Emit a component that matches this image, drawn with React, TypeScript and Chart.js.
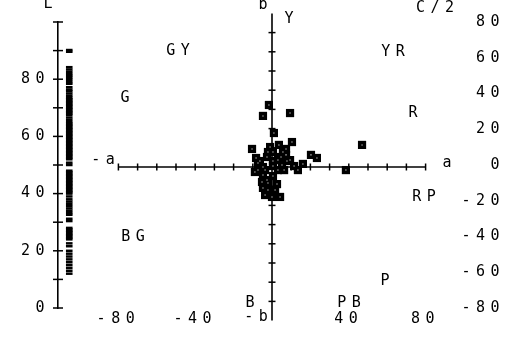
import React, { useEffect, useRef } from 'react';
import { Chart, registerables } from 'chart.js';

Chart.register(...registerables);

// ---- data: sample chromaticity (a, b) ----
const SAMPLE_A = [-1.6, -4.7, 9.4, 1.0, -10.4, 3.6, 7.3, 10.4, 0.5, 46.9, 20.3, 23.4, -6.3, -2.6, 4.7, 7.8, 0.5, -4.7, 0.5, 11.5, 16.1, 38.5, -4.7, 0.5, 2.6, 4.2, -4.7, -2.1, -8.3, 6.3, -2.6, -7.3, 7.3, -1.0,
  -7.3, -3.6, 3.1, 5.2, 9.4, -2.1, -5.2, 1.6, -3.6, 0.0, 3.1, -2.1, 5.7, 13.5, -8.9];
const SAMPLE_B = [32.3, 26.6, 28.1, 17.7, 9.4, 11.5, 9.4, 13.0, 7.8, 11.5, 6.3, 4.7, 3.1, 5.2, 5.2, 3.1, 3.1, 0.0, 0.5, 0.5, 1.6, -1.6, -4.2, -4.7, -8.9, -15.6, -10.9, -12.0, 4.7, -1.6, -6.8, -1.6, 6.3, 10.4,
  2.1, -1.6, -1.6, 1.0, 3.6, -8.3, -7.8, -12.0, -14.6, -15.6, 3.6, 7.8, 7.8, -1.6, -2.6];

// ---- data: lightness values (L) ----
const SAMPLE_L = [
  90.2, 89.6,
  84.2, 83.4, 82.6, 81.8, 81.2, 80.5, 79.8, 79.0, 78.4, 77.2, 76.4, 75.8, 75.0, 74.2,
  73.5, 73.0, 72.5, 72.0, 71.5, 71.0, 70.5, 70.0, 69.5, 69.0, 68.5, 68.0, 67.5,
  66.6, 65.8,
  65.0, 64.5, 64.0, 63.5, 63.0, 62.5, 62.0, 61.5, 61.0, 60.5, 60.0, 59.5, 59.0, 58.5,
  58.0, 57.5, 57.0, 56.5, 56.0, 55.5, 55.0, 54.5, 54.0, 53.5, 53.0, 52.5, 52.0,
  50.8, 50.0,
  48.0, 47.5, 47.0, 46.5, 46.0, 45.5, 45.0, 44.5, 44.0, 43.5, 43.0, 42.5, 42.0, 41.5, 41.0, 40.5, 40.0,
  39.0, 38.0, 37.2, 36.4, 35.6, 34.8, 34.0,
  33.2, 32.6, 31.2, 30.4,
  28.0, 27.5, 27.0, 26.5, 26.0, 25.5, 25.0, 24.5, 24.0,
  22.6, 21.6, 20.0, 19.0, 18.0, 17.0, 16.0, 15.0, 14.0, 13.0, 12.0,
];

// ---- axes / ticks ----
const AB_TICKS = [-80, -70, -60, -50, -40, -30, -20, -10, 10, 20, 30, 40, 50, 60, 70, 80];
const AB_ENDS = [-80, 80];
const L_TICKS = [0, 10, 20, 30, 40, 50, 60, 70, 80, 90, 100];
const L_LABELS = [0, 20, 40, 60, 80];
const BOTTOM_LABELS = [-80, -40, 40, 80];
const RIGHT_LABELS = [80, 60, 40, 20, 0, -20, -40, -60, -80];

// ---- text annotations, placed in (a, b) units ----
const HUE_TEXT = ['Y', 'YR', 'R', 'RP', 'P', 'PB', 'B', 'BG', 'G', 'GY'];
const HUE_A = [8.9, 63.0, 73.4, 79.2, 58.9, 40.1, -11.5, -72.4, -76.6, -49.0];
const HUE_B = [77.1, 59.9, 28.1, -15.6, -59.4, -70.8, -70.8, -36.5, 35.9, 60.4];
const AXIS_TEXT = ['b', '-b', 'a', '-a', 'L', 'C/2'];
const AXIS_TEXT_A = [-4.7, -8.3, 91.1, -88.0, -116.7, 84.9];
const AXIS_TEXT_B = [84.4, -78.1, 2.1, 3.6, 84.9, 82.8];

// plot window in data units
const A_MIN = -111.46;
const A_MAX = 97.92;
const B_MIN = -73.44;
const B_MAX = 75.52;
const L_AXIS_A = A_MIN;
const L_MARK_A = -105.6;

const FONT_FAMILY = "'DejaVu Sans Mono', monospace";
const FONT_SIZE = 15;
const SPACING_PX = 5.5;
const SPACING = `${SPACING_PX}px`;

const textPlugin = {
  id: 'plotText',
  beforeUpdate(chart: any) {
    chart.ctx.letterSpacing = SPACING;
  },
  beforeDraw(chart: any) {
    chart.ctx.letterSpacing = SPACING;
  },
  afterDraw(chart: any) {
    const ctx = chart.ctx;
    const xs = chart.scales.x;
    const ys = chart.scales.y;
    ctx.save();
    ctx.letterSpacing = SPACING;
    ctx.fillStyle = '#000';
    ctx.font = `${FONT_SIZE}px ${FONT_FAMILY}`;
    ctx.textAlign = 'center';
    ctx.textBaseline = 'middle';
    const put = (t: string, a: number, b: number) =>
      ctx.fillText(t, xs.getPixelForValue(a) + SPACING_PX / 2, ys.getPixelForValue(b));
    HUE_TEXT.forEach((t, i) => put(t, HUE_A[i], HUE_B[i]));
    AXIS_TEXT.forEach((t, i) => put(t, AXIS_TEXT_A[i], AXIS_TEXT_B[i]));
    ctx.restore();
  },
};

export default function App() {
  const ref = useRef<HTMLCanvasElement | null>(null);

  useEffect(() => {
    if (!ref.current) return;
    const black = '#000';
    const mark = (data: any[], extra: any) => ({
      data,
      showLine: false,
      clip: false,
      pointBackgroundColor: black,
      pointBorderColor: black,
      ...extra,
    });
    const samples = SAMPLE_A.map((a, i) => ({ x: a, y: SAMPLE_B[i] }));

    const datasets: any[] = [
      // sample squares centre dots (top)
      mark(samples, {
        order: 0, pointStyle: 'rect', pointRadius: 0.75, pointBorderWidth: 0,
        pointBackgroundColor: '#fff', pointBorderColor: '#fff',
      }),
      // sample squares
      mark(samples, {
        order: 1, pointStyle: 'rect', pointRadius: 5.8, pointBorderWidth: 0,
      }),
      // L marks
      mark(SAMPLE_L.map((l) => ({ x: L_MARK_A, y: l })), {
        order: 2, yAxisID: 'L', pointStyle: 'line', pointRadius: 3.3, pointBorderWidth: 2.5,
      }),
      // a axis line
      {
        type: 'line', order: 5, data: AB_ENDS.map((v) => ({ x: v, y: 0 })), clip: false,
        borderColor: black, borderWidth: 1.6, pointRadius: 0,
      },
      // b axis line
      {
        type: 'line', order: 5, data: AB_ENDS.map((v) => ({ x: 0, y: v })), clip: false,
        borderColor: black, borderWidth: 1.6, pointRadius: 0,
      },
      // a axis ticks
      mark(AB_TICKS.map((v) => ({ x: v, y: 0 })), {
        order: 4, pointStyle: 'line', pointRotation: 90, pointRadius: 3.5, pointBorderWidth: 1.5,
      }),
      // b axis ticks
      mark(AB_TICKS.map((v) => ({ x: 0, y: v })), {
        order: 4, pointStyle: 'line', pointRotation: 0, pointRadius: 3.5, pointBorderWidth: 1.5,
      }),
      // L axis ticks
      mark(L_TICKS.map((v) => ({ x: L_AXIS_A, y: v })), {
        order: 4, yAxisID: 'L', pointStyle: 'line', pointRotation: 0, pointRadius: 5, pointBorderWidth: 1.5,
      }),
    ];

    const font = { family: FONT_FAMILY, size: FONT_SIZE };

    const chart = new Chart(ref.current, {
      type: 'scatter',
      data: { datasets },
      options: {
        animation: false,
        responsive: false,
        events: [],
        layout: { padding: { top: 22, left: 0, right: 0, bottom: 0 } },
        plugins: { legend: { display: false }, tooltip: { enabled: false } },
        scales: {
          x: {
            type: 'linear',
            position: 'bottom',
            min: A_MIN,
            max: A_MAX,
            grid: { display: false, drawTicks: false },
            border: { display: false },
            ticks: { color: black, font, padding: 2, autoSkip: false, maxRotation: 0 },
            afterBuildTicks: (s: any) => { s.ticks = BOTTOM_LABELS.map((v) => ({ value: v })); },
            afterFit: (s: any) => { s.height = 30; },
          },
          y: {
            type: 'linear',
            display: false,
            min: B_MIN,
            max: B_MAX,
          },
          L: {
            type: 'linear',
            position: 'left',
            min: 0,
            max: 100,
            grid: { display: false, drawTicks: false },
            border: { display: true, color: black, width: 1.6 },
            ticks: { color: black, font, padding: 8, autoSkip: false },
            afterBuildTicks: (s: any) => { s.ticks = L_LABELS.map((v) => ({ value: v })); },
            afterFit: (s: any) => { s.width = 58; },
          },
          C: {
            type: 'linear',
            position: 'right',
            min: -80,
            max: 80,
            grid: { display: false, drawTicks: false },
            border: { display: false },
            ticks: { color: black, font, padding: 0, autoSkip: false, crossAlign: 'far' },
            afterBuildTicks: (s: any) => { s.ticks = RIGHT_LABELS.map((v) => ({ value: v })); },
            afterFit: (s: any) => { s.width = 45; },
          },
        },
      } as any,
      plugins: [textPlugin],
    });
    return () => chart.destroy();
  }, []);

  return (
    <div style={{ position: 'absolute', left: 0, top: 0, width: 505, height: 338, background: '#fff' }}>
      <canvas ref={ref} width={505} height={338} style={{ display: 'block' }} />
    </div>
  );
}
